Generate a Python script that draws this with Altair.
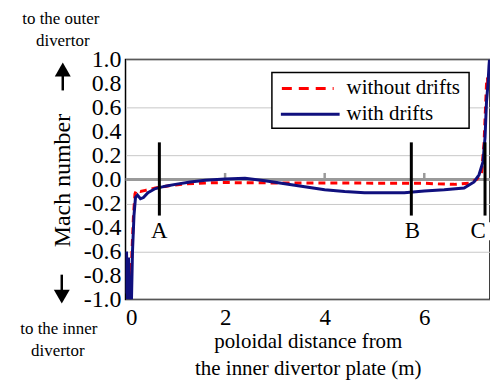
import altair as alt
import pandas as pd

# ---- data ----
dist_with = [0.0, 0.02, 0.04, 0.06, 0.08, 0.10, 0.12, 0.14, 0.17, 0.20, 0.24, 0.30, 0.36, 0.45,
             0.6, 0.8, 1.0, 1.3, 1.6, 2.0, 2.4, 2.8, 3.2, 3.6, 4.0, 4.4, 4.8, 5.2, 5.6, 6.0,
             6.4, 6.8, 7.0, 7.1, 7.18, 7.22, 7.25, 7.28, 7.30, 7.31]
mach_with = [-0.95, -0.60, -1.0, -0.65, -1.0, -0.80, -1.0, -0.60, -0.30, -0.15, -0.13, -0.16, -0.15, -0.11,
             -0.075, -0.055, -0.04, -0.02, -0.005, 0.005, 0.01, -0.01, -0.035, -0.06, -0.085, -0.10, -0.11, -0.11, -0.11, -0.095,
             -0.085, -0.07, -0.02, 0.04, 0.15, 0.35, 0.65, 0.80, 0.95, 1.0]

dist_without = [0.04, 0.07, 0.10, 0.13, 0.16, 0.19, 0.22, 0.30, 0.40, 0.6, 0.9, 1.2, 1.6, 2.0,
                3.0, 4.0, 5.0, 6.0, 6.2, 6.6, 6.9, 7.05, 7.15, 7.2, 7.23, 7.25, 7.27, 7.28]
mach_without = [-0.95, -0.70, -0.95, -0.60, -0.30, -0.12, -0.09, -0.10, -0.09, -0.07, -0.05, -0.035, -0.028, -0.025,
                -0.028, -0.028, -0.03, -0.03, -0.035, -0.04, -0.03, 0.0, 0.05, 0.30, 0.60, 0.80, 0.85, 0.75]

series_names = ["without drifts", "with drifts"]
marker_labels = ["A", "B", "C"]
marker_pos = [0.68, 5.74, 7.22]
marker_label_pos = [0.68, 5.76, 7.08]
x_ticks = [0, 2, 4, 6]
zero_tick_pos = [2, 4, 6]
y_ticks = [-1.0, -0.8, -0.6, -0.4, -0.2, 0.0, 0.2, 0.4, 0.6, 0.8, 1.0]
y_tick_labels = ["-1.0", "-0.8", "-0.6", "-0.4", "-0.2", "0.0", "0.2", "0.4", "0.6", "0.8", "1.0"]

FONT = "Liberation Serif"
RED = "#ff0000"
NAVY = "#10107e"

df_with = pd.DataFrame({"d": dist_with, "m": mach_with})
df_without = pd.DataFrame({"d": dist_without, "m": mach_without})
df_mark = pd.DataFrame({"d": marker_pos, "dl": marker_label_pos, "lab": marker_labels})
df_zt = pd.DataFrame({"d": zero_tick_pos})
df_yl = pd.DataFrame({"v": y_ticks, "t": y_tick_labels})
one = pd.DataFrame({"a": [0]})

xs = alt.Scale(domain=[0, 7.32], nice=False, zero=False)
ys = alt.Scale(domain=[-1.0, 1.0], nice=False)

X = alt.X("d:Q", scale=xs,
          axis=alt.Axis(values=x_ticks, format="d", grid=False, ticks=False, domain=False,
                        labelFontSize=23, labelFont=FONT, labelColor="black", labelPadding=7,
                        title=["poloidal distance from", "the inner divertor plate (m)"],
                        titleFont=FONT, titleFontSize=21, titleFontWeight="normal",
                        titleColor="black", titlePadding=1, titleLineHeight=27))
Y = alt.Y("m:Q", scale=ys,
          axis=alt.Axis(values=y_ticks, grid=True, gridColor="#c8c8c8", gridWidth=1,
                        ticks=False, domain=False, labels=False,
                        title="Mach number", titleFont=FONT, titleFontSize=24,
                        titleFontWeight="normal", titleColor="black",
                        titleX=-63, titleY=121, titleAngle=-90, titleAlign="center",
                        titleBaseline="middle"))

base_grid = alt.Chart(df_with).mark_line(opacity=0).encode(x=X, y=Y)

# y tick labels (hyphen minus, every 0.2)
y_labels = alt.Chart(df_yl).mark_text(font=FONT, fontSize=24, color="black", align="right",
                                      baseline="middle").encode(
    y=alt.Y("v:Q", scale=ys), x=alt.value(-4), text="t:N")

zero_line = alt.Chart(one).mark_rule(color="#9a9a9a", strokeWidth=3).encode(
    y=alt.datum(0, scale=ys), x=alt.value(0), x2=alt.value(366))

zero_ticks = alt.Chart(df_zt).mark_rule(color="#9a9a9a", strokeWidth=2.5).encode(
    x=alt.X("d:Q", scale=xs), y=alt.datum(0, scale=ys), y2=alt.datum(0.055))

red_line = alt.Chart(df_without).mark_line(color=RED, strokeWidth=3, strokeDash=[7, 5], clip=True).encode(
    x=alt.X("d:Q", scale=xs), y=alt.Y("m:Q", scale=ys))
navy_line = alt.Chart(df_with).mark_line(color=NAVY, strokeWidth=3, clip=True).encode(
    x=alt.X("d:Q", scale=xs), y=alt.Y("m:Q", scale=ys))

markers = alt.Chart(df_mark).mark_rule(color="black", strokeWidth=3).encode(
    x=alt.X("d:Q", scale=xs), y=alt.datum(0.31, scale=ys), y2=alt.datum(-0.30))
marker_bg = alt.Chart(df_mark).mark_rect(color="white", width=30, height=18, clip=True).encode(
    x=alt.X("dl:Q", scale=xs), y=alt.datum(-0.43, scale=ys))
marker_txt = alt.Chart(df_mark).mark_text(font=FONT, fontSize=23, color="black", baseline="middle").encode(
    x=alt.X("dl:Q", scale=xs), y=alt.datum(-0.43, scale=ys), text="lab:N")

# legend (drawn inside the plot, top right)
leg_box = alt.Chart(one).mark_rect(fill="white", stroke="black", strokeWidth=1.5).encode(
    x=alt.value(147), x2=alt.value(345), y=alt.value(13), y2=alt.value(69))
leg_red = alt.Chart(one).mark_rule(color=RED, strokeWidth=3, strokeDash=[10, 7]).encode(
    x=alt.value(157), x2=alt.value(209), y=alt.value(29))
leg_navy = alt.Chart(one).mark_rule(color=NAVY, strokeWidth=3).encode(
    x=alt.value(156), x2=alt.value(215), y=alt.value(55))
leg_t1 = alt.Chart(one).mark_text(text=series_names[0], font=FONT, fontSize=21, align="left",
                                  baseline="middle", color="black").encode(x=alt.value(222), y=alt.value(29))
leg_t2 = alt.Chart(one).mark_text(text=series_names[1], font=FONT, fontSize=21, align="left",
                                  baseline="middle", color="black").encode(x=alt.value(222), y=alt.value(55))

# direction annotations outside the plot
def note(txt, x, y):
    return alt.Chart(one).mark_text(text=txt, font=FONT, fontSize=17, color="black",
                                    align="center", baseline="middle").encode(x=alt.value(x), y=alt.value(y))

up_shaft = alt.Chart(one).mark_rule(color="black", strokeWidth=2.5).encode(
    x=alt.value(-63), y=alt.value(15), y2=alt.value(31))
up_head = alt.Chart(one).mark_point(shape="triangle-up", filled=True, size=256, color="black", opacity=1).encode(
    x=alt.value(-63), y=alt.value(10))
dn_shaft = alt.Chart(one).mark_rule(color="black", strokeWidth=2.5).encode(
    x=alt.value(-64), y=alt.value(216), y2=alt.value(232))
dn_head = alt.Chart(one).mark_point(shape="triangle-down", filled=True, size=256, color="black", opacity=1).encode(
    x=alt.value(-64), y=alt.value(238))

chart = alt.layer(
    base_grid, y_labels, zero_line, zero_ticks, red_line, navy_line,
    markers, marker_bg, marker_txt,
    leg_box, leg_red, leg_navy, leg_t1, leg_t2,
    note("to the outer", -65, -41), note("divertor", -63, -19), up_shaft, up_head,
    note("to the inner", -67, 271), note("divertor", -68, 293), dn_shaft, dn_head,
).properties(
    width=366, height=241,
    autosize=alt.AutoSizeParams(type="none"),
    padding={"left": 118, "top": 51, "right": 0, "bottom": 82},
    background="white",
).configure_view(stroke="black", strokeWidth=1.5)

chart.save("out.html", embed_options={"renderer": "svg", "actions": False})
